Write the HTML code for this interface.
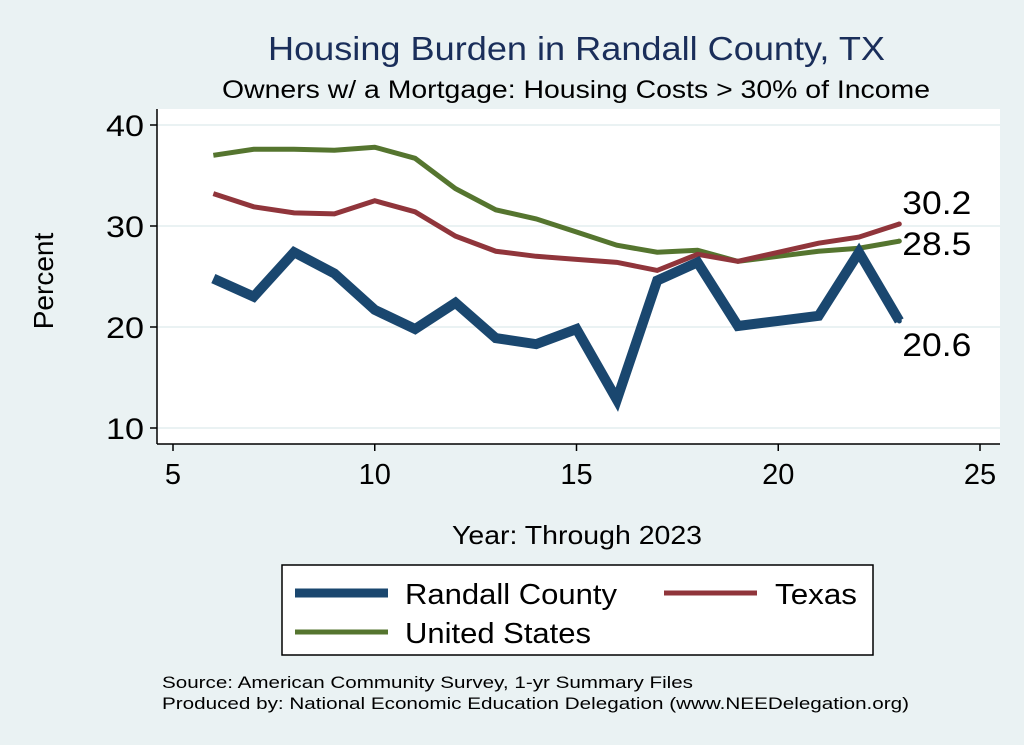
<!DOCTYPE html>
<html><head><meta charset="utf-8"><style>
body{margin:0;background:#eaf2f3;}
svg{display:block;font-family:"Liberation Sans",sans-serif;}
</style></head><body>
<svg id="chart" width="1024" height="745">
<rect x="0" y="0" width="1024" height="745" fill="#eaf2f3"/>
<text x="268" y="60" font-size="33" textLength="617" lengthAdjust="spacingAndGlyphs" fill="#1a2e5a">Housing Burden in Randall County, TX</text>
<text x="222" y="98" font-size="25" textLength="708" lengthAdjust="spacingAndGlyphs" fill="#000">Owners w/ a Mortgage: Housing Costs &gt; 30% of Income</text>
<rect x="157" y="109" width="843" height="335" fill="#fff"/>
<g id="grid"></g>
<g id="axes"></g>
<g id="series"></g>
<text transform="translate(53,281) rotate(-90)" text-anchor="middle" font-size="28">Percent</text>
<text x="452" y="544" font-size="26" textLength="250" lengthAdjust="spacingAndGlyphs">Year: Through 2023</text>
<g>
<rect x="282" y="565" width="591" height="90" fill="#fff" stroke="#000" stroke-width="1.5"/>
<g><line x1="295" y1="593" x2="388" y2="593" stroke="#1a476f" stroke-width="9"/><text x="405" y="604" font-size="29" textLength="212" lengthAdjust="spacingAndGlyphs">Randall County</text></g>
<g><line x1="664" y1="593" x2="757" y2="593" stroke="#90353b" stroke-width="5"/><text x="775" y="604" font-size="29" textLength="82" lengthAdjust="spacingAndGlyphs">Texas</text></g>
<g><line x1="295" y1="632" x2="388" y2="632" stroke="#55752f" stroke-width="5"/><text x="405" y="643" font-size="29" textLength="186" lengthAdjust="spacingAndGlyphs">United States</text></g>
</g>
<text x="162" y="688" font-size="17" textLength="531" lengthAdjust="spacingAndGlyphs">Source: American Community Survey, 1-yr Summary Files</text>
<text x="162" y="709" font-size="17" textLength="747" lengthAdjust="spacingAndGlyphs">Produced by: National Economic Education Delegation (www.NEEDelegation.org)</text>
</svg>
<script>
const years=[6,7,8,9,10,11,12,13,14,15,16,17,18,19,20,21,22,23];
const randall=[24.8,23.0,27.4,25.3,21.7,19.8,22.4,18.9,18.3,19.8,12.8,24.6,26.4,20.1,20.6,21.1,27.4,20.6];
const texas=[33.2,31.9,31.3,31.2,32.5,31.4,29.0,27.5,27.0,26.7,26.4,25.6,27.2,26.5,27.4,28.3,28.9,30.2];
const us=[37.0,37.6,37.6,37.5,37.8,36.7,33.7,31.6,30.7,29.4,28.1,27.4,27.6,26.5,27.0,27.5,27.8,28.5];
const xTicks=[5,10,15,20,25];
const yTicks=[10,20,30,40];
const NS="http://www.w3.org/2000/svg";
function xs(v){return 173+(v-5)*(980-173)/20;}
function ys(v){return 428-(v-10)*(428-125)/30;}
function mk(t,a,p){const e=document.createElementNS(NS,t);for(const k in a)e.setAttribute(k,a[k]);p.appendChild(e);return e;}
const grid=document.getElementById('grid'),axes=document.getElementById('axes'),ser=document.getElementById('series');
yTicks.forEach(v=>{
 const g=mk('line',{x1:157,x2:1000,y1:ys(v),y2:ys(v),stroke:'#eaf2f3','stroke-width':2},grid);
 
 
 mk('line',{x1:150,x2:157,y1:ys(v),y2:ys(v),stroke:'#000','stroke-width':1.5},axes);
 const t=mk('text',{x:144,y:ys(v)+11,'text-anchor':'end','font-size':30,textLength:38,lengthAdjust:'spacingAndGlyphs'},axes);t.textContent=v;
 
 
});
xTicks.forEach(v=>{
 mk('line',{x1:xs(v),x2:xs(v),y1:444,y2:451,stroke:'#000','stroke-width':1.5},axes);
 const t=mk('text',{x:xs(v),y:484,'text-anchor':'middle','font-size':29},axes);t.textContent=v;
 
 
});
const ya=mk('line',{x1:157,x2:157,y1:109,y2:444,stroke:'#000','stroke-width':1.5},axes);


const xa=mk('line',{x1:157,x2:1000,y1:444,y2:444,stroke:'#000','stroke-width':1.5},axes);


function line(vals,color,w,name,lblDy){
 const p=mk('polyline',{points:years.map((y,i)=>xs(y)+','+ys(vals[i])).join(' '),fill:'none',stroke:color,'stroke-width':w,'stroke-linejoin':'miter'},ser);
 
 
 const last=vals[vals.length-1];
 mk('circle',{cx:xs(years[years.length-1]),cy:ys(last),r:2.5,fill:color},ser);
 const t=mk('text',{x:xs(years[years.length-1])+3,y:ys(last)+lblDy,'font-size':32,textLength:69,lengthAdjust:'spacingAndGlyphs'},ser);t.textContent=last.toFixed(1);
 
 
}
line(us,'#55752f',5,'us-line',14);
line(texas,'#90353b',5,'texas-line',-10);
line(randall,'#1a476f',10,'randall-line',35);
</script>
</body></html>
